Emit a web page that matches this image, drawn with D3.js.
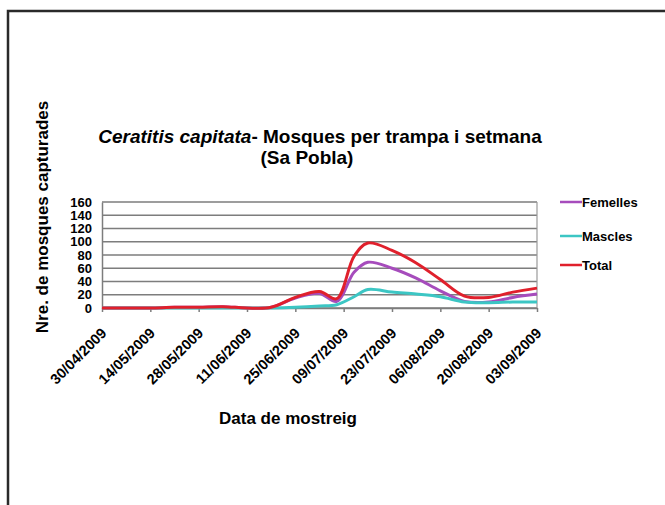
<!DOCTYPE html>
<html>
<head>
<meta charset="utf-8">
<script src="https://cdn.jsdelivr.net/npm/d3@7"></script>
<style>
  body { margin: 0; background: #fff; }
  svg text { font-family: "Liberation Sans", Arial, sans-serif; font-weight: bold; fill: #000; }
</style>
</head>
<body>
<div class="container"></div>
<script>
const w = 665;
const h = 505;

// sampling dates (dd/mm/yyyy)
const dates = ['30/04/2009', '07/05/2009', '14/05/2009', '21/05/2009', '28/05/2009', '04/06/2009',
  '11/06/2009', '18/06/2009', '25/06/2009', '02/07/2009', '07/07/2009', '12/07/2009', '16/07/2009',
  '23/07/2009', '30/07/2009', '06/08/2009', '13/08/2009', '20/08/2009', '27/08/2009', '03/09/2009'];
const femelles = [0, 0, 0, 1, 1, 2, 0, 1, 15, 22, 10, 54, 69, 60, 45, 26, 10, 9, 16, 21];
const mascles  = [0, 0, 0, 0, 0, 0, 0, 0, 1, 3, 5, 17, 28, 24, 21, 17, 9, 8, 9, 9];
const total    = [0, 0, 0, 1, 1, 2, 0, 1, 16, 25, 14, 78, 98, 87, 68, 43, 18, 16, 24, 30];

const tickLabels = ['30/04/2009', '14/05/2009', '28/05/2009', '11/06/2009', '25/06/2009',
  '09/07/2009', '23/07/2009', '06/08/2009', '20/08/2009', '03/09/2009'];
const yTicks = [0, 20, 40, 60, 80, 100, 120, 140, 160];

const seriesNames = ['Femelles', 'Mascles', 'Total'];
const seriesValues = [femelles, mascles, total];
const colors = ['#a64cbc', '#3cc6c4', '#e0202c'];

const parse = d3.timeParse('%d/%m/%Y');
const fmt = d3.timeFormat('%d/%m/%Y');

const margin = {top: 202, left: 102, right: 127, bottom: 197};

const svg = d3.select('.container').append('svg')
  .attr('width', w)
  .attr('height', h);

// outer frame (runs off the right and bottom edges)
svg.append('rect')
  .attr('x', 8).attr('y', 11)
  .attr('width', 720).attr('height', 600)
  .attr('fill', 'none')
  .attr('stroke', '#2a2a2a')
  .attr('stroke-width', 2.5);

const x = d3.scaleTime()
  .domain([parse(tickLabels[0]), parse(tickLabels[tickLabels.length - 1])])
  .range([margin.left, w - margin.right - 1]);

const y = d3.scaleLinear()
  .domain([0, 160])
  .range([h - margin.bottom, margin.top]);

// grid lines
svg.append('g')
  .selectAll('line')
  .data(yTicks)
  .join('line')
  .attr('x1', x.range()[0]).attr('x2', x.range()[1])
  .attr('y1', d => y(d)).attr('y2', d => y(d))
  .attr('stroke', '#7d7d7d')
  .attr('stroke-width', 1.5);

// right border
svg.append('line')
  .attr('x1', x.range()[1]).attr('x2', x.range()[1])
  .attr('y1', y(160)).attr('y2', y(0))
  .attr('stroke', '#9a9a9a')
  .attr('stroke-width', 1.2);

// y axis
const yAxis = d3.axisLeft(y).tickValues(yTicks).tickSize(0).tickPadding(10);
svg.append('g')
  .attr('transform', `translate(${margin.left}, 0)`)
  .call(yAxis)
  .call(g => g.select('.domain').attr('stroke', '#7d7d7d').attr('stroke-width', 1.5))
  .call(g => g.selectAll('text').style('font-size', '13px').style('font-family', '"Liberation Sans", Arial, sans-serif'));

// x axis
const xAxis = d3.axisBottom(x)
  .tickValues(tickLabels.map(parse))
  .tickFormat(fmt)
  .tickSizeInner(4)
  .tickSizeOuter(0);
svg.append('g')
  .attr('transform', `translate(0, ${y(0)})`)
  .call(xAxis)
  .call(g => g.select('.domain').attr('stroke', '#7d7d7d').attr('stroke-width', 1.5))
  .call(g => g.selectAll('.tick line').attr('stroke', '#7d7d7d').attr('stroke-width', 1.5))
  .call(g => g.selectAll('text')
    .style('font-size', '14.5px')
    .style('font-family', '"Liberation Sans", Arial, sans-serif')
    .attr('text-anchor', 'end')
    .attr('y', 0).attr('dy', 0)
    .attr('transform', 'translate(5, 26) rotate(-45)'));

// lines
const line = d3.line()
  .x((d, i) => x(parse(dates[i])))
  .y(d => y(d))
  .curve(d3.curveCatmullRom.alpha(0.5));

svg.append('g')
  .selectAll('path')
  .data(seriesValues)
  .join('path')
  .attr('d', d => line(d))
  .attr('fill', 'none')
  .attr('stroke', (d, i) => colors[i])
  .attr('stroke-width', 3)
  .attr('stroke-linejoin', 'round');

// legend
const legend = svg.append('g')
  .selectAll('g')
  .data(seriesNames)
  .join('g')
  .attr('transform', (d, i) => `translate(560, ${[202, 236, 265][i]})`);

legend.append('line')
  .attr('x1', 0).attr('x2', 22)
  .attr('stroke', (d, i) => colors[i])
  .attr('stroke-width', 2.5);

legend.append('text')
  .attr('x', 22)
  .attr('dy', '0.35em')
  .style('font-size', '13px')
  .text(d => d);

// title
const title = svg.append('text')
  .attr('x', 320)
  .attr('y', 143)
  .attr('text-anchor', 'middle')
  .style('font-size', '19px');
title.append('tspan').style('font-style', 'italic').text('Ceratitis capitata');
title.append('tspan').text('- Mosques per trampa i setmana');

svg.append('text')
  .attr('x', 307)
  .attr('y', 164)
  .attr('text-anchor', 'middle')
  .style('font-size', '19px')
  .text('(Sa Pobla)');

// axis titles
svg.append('text')
  .attr('transform', 'translate(48, 217) rotate(-90)')
  .attr('text-anchor', 'middle')
  .style('font-size', '17px')
  .text('Nre. de mosques capturades');

svg.append('text')
  .attr('x', 288)
  .attr('y', 424)
  .attr('text-anchor', 'middle')
  .style('font-size', '17px')
  .text('Data de mostreig');
</script>
</body>
</html>
